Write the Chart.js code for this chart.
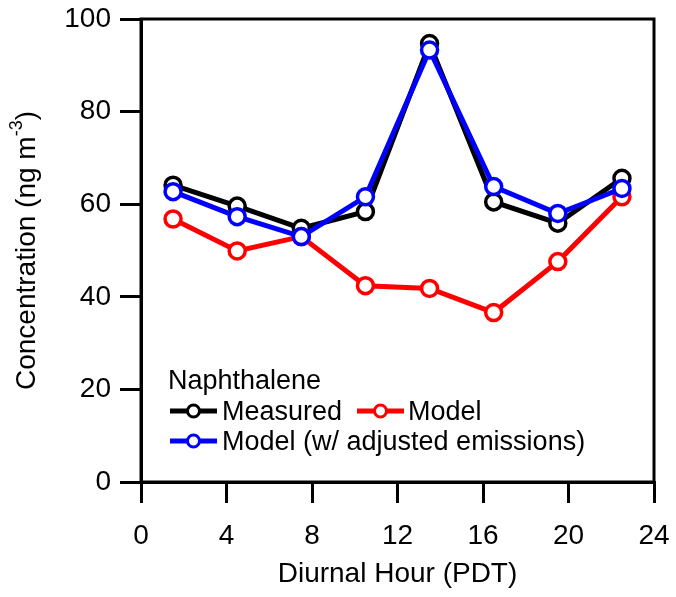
<!DOCTYPE html>
<html lang="en">
<head>
    <meta charset="UTF-8">
    <title>Naphthalene diurnal profile</title>
    <script src="https://cdn.jsdelivr.net/npm/chart.js"></script>
    <style>
        body { margin: 0; background: #fff; }
    </style>
</head>
<body>
    <canvas id="naphChart" width="676" height="597"></canvas>

    <script>
        // Data
        const hours = [1.5, 4.5, 7.5, 10.5, 13.5, 16.5, 19.5, 22.5];
        const measured = [64.1, 59.6, 54.8, 58.4, 94.7, 60.5, 55.9, 65.6];
        const model = [56.8, 49.9, 53.0, 42.4, 41.8, 36.6, 47.6, 61.6];
        const modelAdjusted = [62.7, 57.3, 53.0, 61.6, 93.3, 63.8, 58.0, 63.4];
        const xTicks = [0, 4, 8, 12, 16, 20, 24];
        const yTicks = [0, 20, 40, 60, 80, 100];
        const legendTitle = 'Naphthalene';

        const FONT = "'Liberation Sans', Arial, sans-serif";

        function toPoints(values) {
            return hours.map((h, i) => ({ x: h, y: values[i] }));
        }

        function series(label, values, color, order) {
            return {
                label: label,
                data: toPoints(values),
                borderColor: color,
                borderWidth: 5,
                pointRadius: 8,
                pointBorderWidth: 3.5,
                pointBorderColor: color,
                pointBackgroundColor: '#fff',
                tension: 0,
                clip: false,
                order: order
            };
        }

        // full box around the plot area
        const framePlugin = {
            id: 'frame',
            beforeDatasetsDraw(chart) {
                const { ctx, chartArea: a } = chart;
                ctx.save();
                ctx.strokeStyle = '#000';
                ctx.lineWidth = 3;
                ctx.strokeRect(a.left, a.top, a.right - a.left, a.bottom - a.top);
                ctx.restore();
            }
        };

        // y title with a real superscript
        const yTitlePlugin = {
            id: 'yTitle',
            afterDraw(chart) {
                const ctx = chart.ctx;
                const midY = (chart.chartArea.top + chart.chartArea.bottom) / 2;
                ctx.save();
                ctx.fillStyle = '#000';
                ctx.textBaseline = 'alphabetic';
                ctx.textAlign = 'left';
                const main = 'Concentration (ng m';
                const sup = '-3';
                const close = ')';
                ctx.font = '28px ' + FONT;
                const wMain = ctx.measureText(main).width;
                const wClose = ctx.measureText(close).width;
                ctx.font = '18px ' + FONT;
                const wSup = ctx.measureText(sup).width;
                const total = wMain + wSup + wClose;
                ctx.translate(35, midY);
                ctx.rotate(-Math.PI / 2);
                let x = -total / 2;
                ctx.font = '28px ' + FONT;
                ctx.fillText(main, x, 0);
                x += wMain;
                ctx.font = '18px ' + FONT;
                ctx.fillText(sup, x, -13);
                x += wSup;
                ctx.font = '28px ' + FONT;
                ctx.fillText(close, x, 0);
                ctx.restore();
            }
        };

        // legend drawn inside the plot, like the original
        const legendPlugin = {
            id: 'innerLegend',
            afterDraw(chart) {
                const ctx = chart.ctx;
                const ds = chart.data.datasets;
                const slots = [
                    { x: 170, y: 411, tx: 222, by: 420 },
                    { x: 357, y: 411, tx: 408, by: 420 },
                    { x: 170, y: 441, tx: 222, by: 450 }
                ];
                ctx.save();
                ctx.fillStyle = '#000';
                ctx.font = '27px ' + FONT;
                ctx.textBaseline = 'alphabetic';
                ctx.fillText(legendTitle, 168, 389);
                ds.forEach((d, i) => {
                    const s = slots[i];
                    ctx.strokeStyle = d.borderColor;
                    ctx.lineWidth = 5;
                    ctx.beginPath();
                    ctx.moveTo(s.x, s.y);
                    ctx.lineTo(s.x + 47, s.y);
                    ctx.stroke();
                    ctx.beginPath();
                    ctx.arc(s.x + 23.5, s.y, 6, 0, Math.PI * 2);
                    ctx.fillStyle = '#fff';
                    ctx.fill();
                    ctx.lineWidth = 3;
                    ctx.stroke();
                    ctx.fillStyle = '#000';
                    ctx.fillText(d.label, s.tx, s.by);
                });
                ctx.restore();
            }
        };

        const ctx = document.getElementById('naphChart').getContext('2d');
        new Chart(ctx, {
            type: 'line',
            data: {
                datasets: [
                    series('Measured', measured, '#000000', 3),
                    series('Model', model, '#ff0000', 2),
                    series('Model (w/ adjusted emissions)', modelAdjusted, '#0000ff', 1)
                ]
            },
            options: {
                responsive: false,
                animation: false,
                layout: { padding: { left: 0, top: 19, right: 22, bottom: 0 } },
                plugins: {
                    legend: { display: false },
                    tooltip: { enabled: false }
                },
                scales: {
                    x: {
                        type: 'linear',
                        min: 0,
                        max: 24,
                        afterBuildTicks: s => { s.ticks = xTicks.map(v => ({ value: v })); },
                        afterFit: s => {
                            s.height = 115;
                            s.paddingLeft = 0;
                            s.paddingRight = 0;
                        },
                        grid: { drawOnChartArea: false, drawTicks: true, tickLength: 21, lineWidth: 3, color: '#000' },
                        border: { display: true, color: '#000', width: 3 },
                        ticks: { color: '#000', padding: 16, maxRotation: 0, font: { size: 28, family: FONT } },
                        title: {
                            display: true,
                            text: 'Diurnal Hour (PDT)',
                            color: '#000',
                            font: { size: 28, family: FONT },
                            padding: { top: 0, bottom: 6 }
                        }
                    },
                    y: {
                        type: 'linear',
                        min: 0,
                        max: 100,
                        afterBuildTicks: s => { s.ticks = yTicks.map(v => ({ value: v })); },
                        afterFit: s => {
                            s.width = 141;
                            s.paddingTop = 0;
                            s.paddingBottom = 0;
                        },
                        grid: { drawOnChartArea: false, drawTicks: true, tickLength: 21, lineWidth: 3, color: '#000' },
                        border: { display: true, color: '#000', width: 3 },
                        ticks: { color: '#000', padding: 9, font: { size: 28, family: FONT } }
                    }
                }
            },
            plugins: [framePlugin, yTitlePlugin, legendPlugin]
        });
    </script>
</body>
</html>
